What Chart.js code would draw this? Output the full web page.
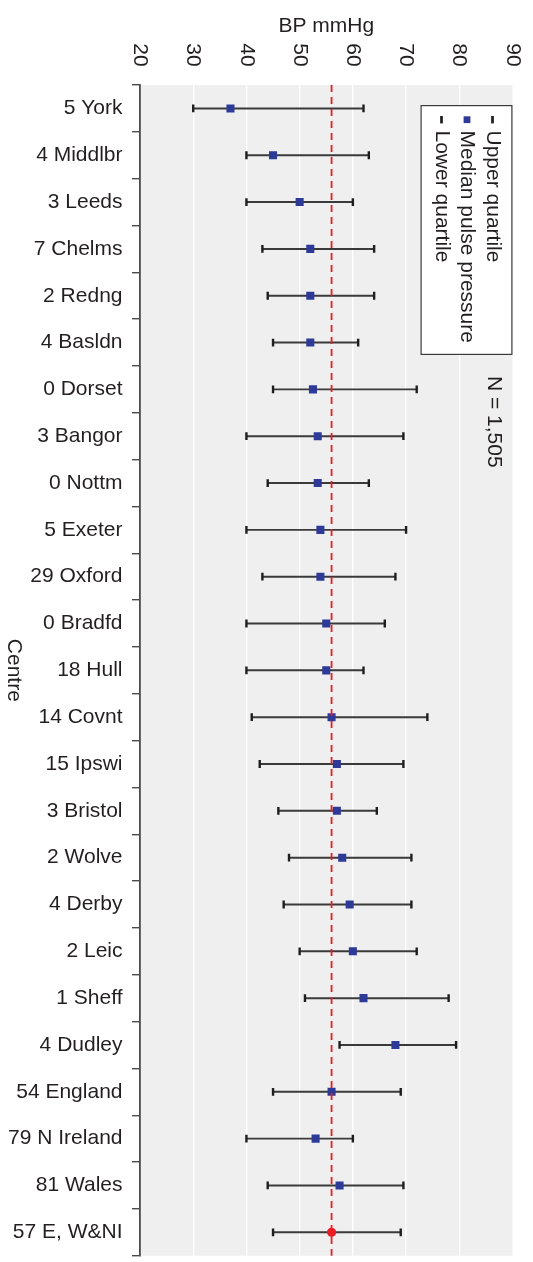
<!DOCTYPE html>
<html>
<head>
<meta charset="utf-8">
<title>Pulse pressure by centre</title>
<script src="https://cdn.jsdelivr.net/npm/chart.js@4.4.1/dist/chart.umd.min.js"></script>
<style>
  html, body { margin: 0; padding: 0; background: #ffffff; }
  canvas { display: block; }
</style>
</head>
<body>
<canvas id="chart" width="533" height="1262"></canvas>
<script>
// Centres (count prefix + short name), top to bottom
const centres = [
  '5 York', '4 Middlbr', '3 Leeds', '7 Chelms', '2 Redng', '4 Basldn',
  '0 Dorset', '3 Bangor', '0 Nottm', '5 Exeter', '29 Oxford', '0 Bradfd',
  '18 Hull', '14 Covnt', '15 Ipswi', '3 Bristol', '2 Wolve', '4 Derby',
  '2 Leic', '1 Sheff', '4 Dudley', '54 England', '79 N Ireland', '81 Wales',
  '57 E, W&NI'
];

// Pulse pressure, mmHg
const lowerQuartile = [
  30, 40, 40, 43, 44, 45,
  45, 40, 44, 40, 43, 40,
  40, 41, 42.5, 46, 48, 47,
  50, 51, 57.5, 45, 40, 44,
  45
];
const medianPulse = [
  37, 45, 50, 52, 52, 52,
  52.5, 53.4, 53.4, 53.9, 53.9, 55,
  55, 56, 57, 57, 58, 59.4,
  60, 62, 68, 56, 53, 57.5,
  56
];
const upperQuartile = [
  62, 63, 60, 64, 64, 61,
  72, 69.5, 63, 70, 68, 66,
  62, 74, 69.5, 64.5, 71, 71,
  72, 78, 79.4, 69, 60, 69.5,
  69
];

const bpTicks = [20, 30, 40, 50, 60, 70, 80, 90];
const overallMedian = 56;          // pooled median, drawn as the dashed reference
const pooledIndex = centres.length - 1;
const xTitle = 'BP mmHg';
const yTitle = 'Centre';
const sampleNote = 'N = 1,505';
const legendItems = ['Upper quartile', 'Median pulse pressure', 'Lower quartile'];

const FONT = '"Liberation Sans", Arial, Helvetica, sans-serif';
const FS = 21;
const INK = '#231f20';
const PANEL = '#eeefee';
const BLUE = '#2e3a98';
const RED = '#ec1c24';
const WHISKER = '#3a3a3a';
const CAP = '#1e1e1e';

const decorations = {
  id: 'decorations',
  beforeDraw(chart) {
    const { ctx, chartArea: a } = chart;
    ctx.save();
    ctx.fillStyle = PANEL;
    ctx.fillRect(a.left, a.top, a.right - a.left, a.bottom - a.top);
    ctx.restore();
  },
  afterDatasetsDraw(chart) {
    const { ctx, chartArea: a, scales: { x } } = chart;
    const px = x.getPixelForValue(overallMedian);
    ctx.save();
    ctx.strokeStyle = RED;
    ctx.lineWidth = 1.8;
    ctx.setLineDash([7, 5]);
    ctx.beginPath();
    ctx.moveTo(px, a.top);
    ctx.lineTo(px, a.bottom);
    ctx.stroke();
    ctx.restore();
  },
  afterDraw(chart) {
    const { ctx, chartArea: a, scales: { x } } = chart;
    ctx.save();
    ctx.fillStyle = INK;
    ctx.font = FS + 'px ' + FONT;

    // value-axis title
    ctx.textAlign = 'center';
    ctx.textBaseline = 'alphabetic';
    ctx.fillText(xTitle, (a.left + a.right) / 2, 31.5);

    // value-axis tick labels, turned a quarter clockwise
    ctx.textBaseline = 'middle';
    bpTicks.forEach(v => {
      const px = x.getPixelForValue(v);
      ctx.save();
      ctx.translate(px, 55);
      ctx.rotate(Math.PI / 2);
      ctx.fillText(String(v), 0, 0);
      ctx.restore();
    });

    // category-axis title
    ctx.save();
    ctx.translate(13.6, (a.top + a.bottom) / 2);
    ctx.rotate(Math.PI / 2);
    ctx.fillText(yTitle, 0, 0);
    ctx.restore();

    // sample size note
    ctx.save();
    ctx.translate(494, 376);
    ctx.rotate(Math.PI / 2);
    ctx.textAlign = 'left';
    ctx.fillText(sampleNote, 0, 0);
    ctx.restore();

    // legend, turned a quarter clockwise from the top-right corner of the panel
    ctx.save();
    ctx.translate(a.right, 105);
    ctx.rotate(Math.PI / 2);
    const boxW = 250, boxH = 92;
    ctx.fillStyle = '#ffffff';
    ctx.fillRect(0, 0, boxW, boxH);
    ctx.strokeStyle = '#3a3a3a';
    ctx.lineWidth = 1.2;
    ctx.strokeRect(0.6, 0.6, boxW - 1.2, boxH - 1.2);
    const rows = [20, 45.5, 71];
    legendItems.forEach((label, i) => {
      const ly = rows[i];
      if (label === 'Median pulse pressure') {
        ctx.fillStyle = BLUE;
        ctx.fillRect(14.7 - 3.4, ly - 3.4, 6.8, 6.8);
      } else {
        ctx.fillStyle = CAP;
        ctx.fillRect(14.7 - 3.7, ly - 1.35, 7.4, 2.7);
      }
      ctx.fillStyle = INK;
      ctx.textAlign = 'left';
      ctx.textBaseline = 'middle';
      ctx.fillText(label, 25.5, ly);
    });
    ctx.restore();

    ctx.restore();
  }
};

new Chart(document.getElementById('chart'), {
  type: 'bar',
  data: {
    labels: centres,
    datasets: [
      {
        type: 'bar',
        label: 'Interquartile range',
        indexAxis: 'y',
        data: lowerQuartile.map((lo, i) => [lo, upperQuartile[i]]),
        backgroundColor: WHISKER,
        borderWidth: 0,
        barThickness: 1.3,
        order: 3
      },
      {
        type: 'line',
        label: 'Upper quartile',
        indexAxis: 'y',
        data: upperQuartile,
        showLine: false,
        pointStyle: 'line',
        pointRotation: 90,
        pointRadius: 3.9,
        pointHoverRadius: 3.9,
        pointBorderWidth: 2.4,
        pointBorderColor: CAP,
        pointBackgroundColor: CAP,
        order: 2
      },
      {
        type: 'line',
        label: 'Lower quartile',
        indexAxis: 'y',
        data: lowerQuartile,
        showLine: false,
        pointStyle: 'line',
        pointRotation: 90,
        pointRadius: 3.9,
        pointHoverRadius: 3.9,
        pointBorderWidth: 2.4,
        pointBorderColor: CAP,
        pointBackgroundColor: CAP,
        order: 2
      },
      {
        type: 'line',
        label: 'Median pulse pressure',
        indexAxis: 'y',
        data: medianPulse,
        showLine: false,
        pointStyle: c => c.dataIndex === pooledIndex ? 'circle' : 'rect',
        pointRadius: c => c.dataIndex === pooledIndex ? 4.6 : 5.7,
        pointHoverRadius: c => c.dataIndex === pooledIndex ? 4.6 : 5.7,
        pointBorderWidth: 0,
        pointBackgroundColor: c => c.dataIndex === pooledIndex ? RED : BLUE,
        pointBorderColor: c => c.dataIndex === pooledIndex ? RED : BLUE,
        order: 1
      }
    ]
  },
  options: {
    indexAxis: 'y',
    responsive: false,
    animation: false,
    devicePixelRatio: 1,
    layout: { padding: { left: 0, right: 20.5, top: 0, bottom: 4 } },
    plugins: {
      legend: { display: false },
      tooltip: { enabled: false }
    },
    scales: {
      x: {
        type: 'linear',
        position: 'top',
        min: 20,
        max: 90,
        ticks: { stepSize: 10, display: false },
        grid: {
          color: c => (c.tick && (c.tick.value === 20 || c.tick.value === 90)) ? 'rgba(0,0,0,0)' : '#ffffff',
          lineWidth: 1.4,
          drawTicks: false
        },
        border: { display: false },
        afterFit(scale) {
          scale.height = 85;
          scale.paddingLeft = 0;
          scale.paddingRight = 0;
        }
      },
      y: {
        type: 'category',
        position: 'left',
        offset: true,
        ticks: {
          font: { family: FONT, size: FS },
          color: INK,
          padding: 9.5,
          autoSkip: false
        },
        grid: {
          offset: true,
          drawOnChartArea: false,
          drawTicks: true,
          tickLength: 8,
          color: '#4a4a4a',
          lineWidth: 1.4
        },
        border: { display: true, color: '#4a4a4a', width: 1.8 },
        afterFit(scale) {
          scale.width = 140;
          scale.paddingTop = 0;
          scale.paddingBottom = 0;
        }
      }
    }
  },
  plugins: [decorations]
});
</script>
</body>
</html>
